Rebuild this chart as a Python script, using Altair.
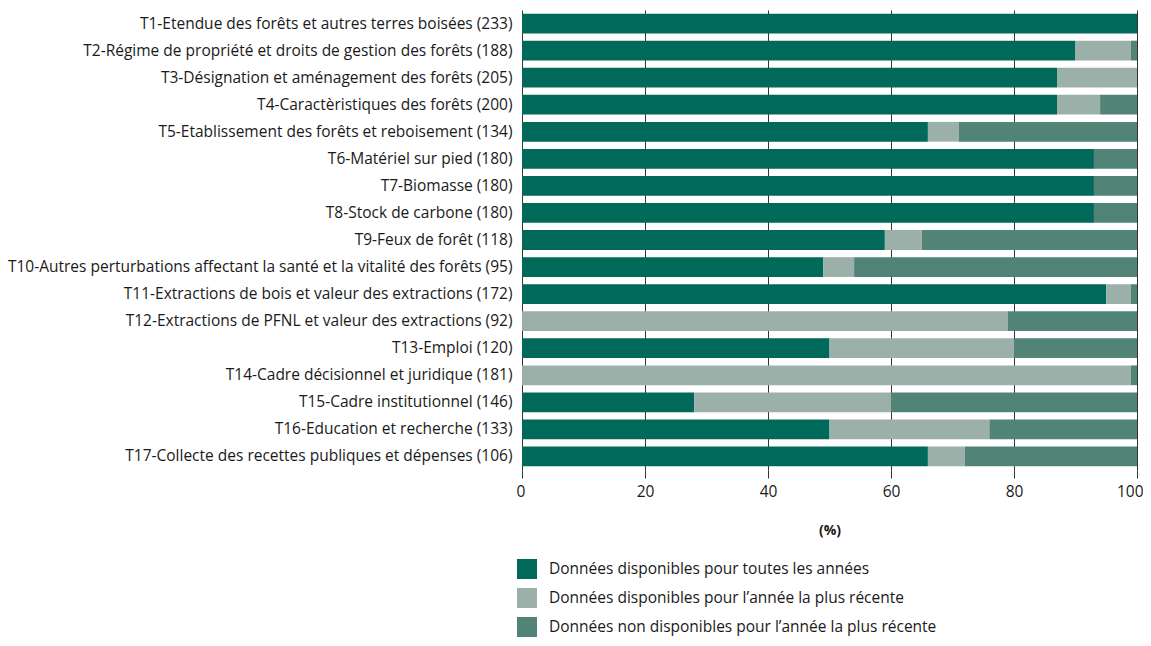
import altair as alt
import pandas as pd

categories = [
    "T1-Etendue des forêts et autres terres boisées (233)",
    "T2-Régime de propriété et droits de gestion des forêts (188)",
    "T3-Désignation et aménagement des forêts  (205)",
    "T4-Caractèristiques des forêts (200)",
    "T5-Etablissement des forêts et reboisement (134)",
    "T6-Matériel sur pied (180)",
    "T7-Biomasse (180)",
    "T8-Stock de carbone (180)",
    "T9-Feux de forêt (118)",
    "T10-Autres perturbations affectant la santé et la vitalité des forêts (95)",
    "T11-Extractions de bois et valeur des extractions (172)",
    "T12-Extractions de PFNL et valeur des extractions (92)",
    "T13-Emploi (120)",
    "T14-Cadre décisionnel et juridique (181)",
    "T15-Cadre institutionnel (146)",
    "T16-Education et recherche (133)",
    "T17-Collecte des recettes publiques et dépenses (106)",
]

series_names = [
    "Données disponibles pour toutes les années",
    "Données disponibles pour l’année la plus récente",
    "Données non disponibles pour l’année la plus récente",
]

all_years = [100, 90, 87, 87, 66, 93, 93, 93, 59, 49, 95, 0, 50, 0, 28, 50, 66]
recent_only = [0, 9, 13, 7, 5, 0, 0, 0, 6, 5, 4, 79, 30, 99, 32, 26, 6]
not_available = [0, 1, 0, 6, 29, 7, 7, 7, 35, 46, 1, 21, 20, 1, 40, 24, 28]

colors = ["#00695a", "#9bb0a9", "#518377"]
x_ticks = [0, 20, 40, 60, 80, 100]

rows = []
for i, cat in enumerate(categories):
    for j, vals in enumerate([all_years, recent_only, not_available]):
        rows.append({"cat": cat, "series": series_names[j], "ord": j, "value": vals[i]})
df = pd.DataFrame(rows)

FONT = "Open Sans"

chart = (
    alt.Chart(df)
    .mark_bar()
    .encode(
        y=alt.Y(
            "cat:N",
            sort=categories,
            scale=alt.Scale(paddingInner=0.27, paddingOuter=0.135),
            axis=alt.Axis(
                title=None,
                labelFontSize=15.5,
                labelPadding=10,
                labelLimit=700,
                ticks=False,
                domain=False,
                labelColor="#1a1a1a",
                labelFont=FONT,
            ),
        ),
        x=alt.X(
            "value:Q",
            stack="zero",
            scale=alt.Scale(domain=[0, 100], nice=False),
            axis=alt.Axis(
                title="(%)",
                values=x_ticks,
                grid=True,
                gridColor="#333333",
                gridOpacity=1,
                domain=False,
                tickSize=8,
                tickColor="#333333",
                labelFontSize=15.5,
                labelFont=FONT,
                labelColor="#1a1a1a",
                labelPadding=6,
                labelFlush=True,
                labelFlushOffset=6,
                titleFont=FONT,
                titleFontSize=14,
                titleFontWeight="bold",
                titleColor="#1a1a1a",
                titlePadding=24,
            ),
        ),
        color=alt.Color(
            "series:N",
            scale=alt.Scale(domain=series_names, range=colors),
            legend=alt.Legend(
                title=None,
                orient="none",
                legendX=-5,
                legendY=549,
                direction="vertical",
                symbolType="square",
                symbolSize=400,
                symbolStrokeWidth=0,
                symbolOpacity=1,
                labelFontSize=15.5,
                labelFont=FONT,
                labelColor="#1a1a1a",
                labelOffset=12,
                rowPadding=9,
                labelLimit=600,
            ),
        ),
        order=alt.Order("ord:Q"),
    )
    .properties(
        width=615,
        height=460,
        padding={"left": 514, "top": 2, "right": 6, "bottom": 168},
        autosize=alt.AutoSizeParams(type="none"),
    )
    .configure_view(stroke=None)
)

chart.save("out.html", embed_options={"renderer": "svg", "actions": False})
